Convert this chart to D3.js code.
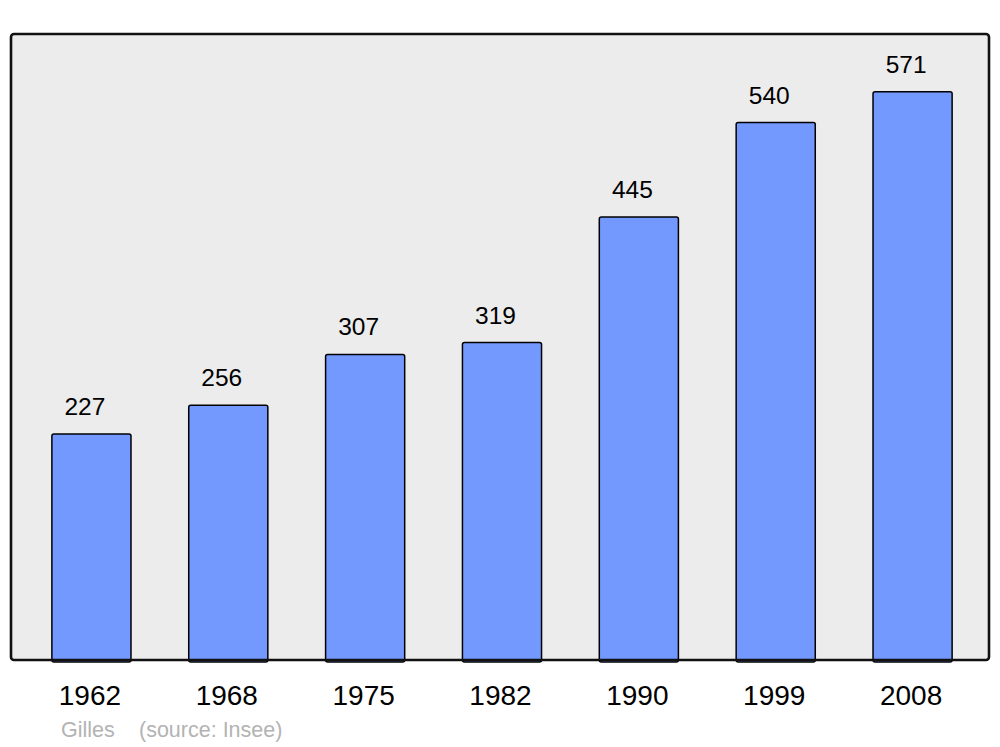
<!DOCTYPE html>
<html>
<head>
<meta charset="utf-8">
<script src="https://cdn.jsdelivr.net/npm/d3@7"></script>
<style>
  body { margin: 0; background: #fff; }
  svg { display: block; }
</style>
</head>
<body>
<div id="chart"></div>
<script>
// data
var years = ["1962", "1968", "1975", "1982", "1990", "1999", "2008"];
var population = [227, 256, 307, 319, 445, 540, 571];
var author = "Gilles";
var source = "(source: Insee)";

var width = 1000, height = 747;
var frame = {left: 11, top: 34, right: 989, bottom: 660};

var svg = d3.select("#chart")
  .append("svg")
    .attr("width", width)
    .attr("height", height)
    .style("font-family", "'Liberation Sans', Arial, sans-serif");

// plot background
svg.append("rect")
  .attr("x", frame.left)
  .attr("y", frame.top)
  .attr("width", frame.right - frame.left)
  .attr("height", frame.bottom - frame.top)
  .attr("rx", 3)
  .attr("fill", "#ececec");

// scales
var x = d3.scaleBand()
  .domain(years)
  .range([23, 981])
  .paddingInner(0.422)
  .paddingOuter(0.211);

var y = d3.scaleLinear()
  .domain([0, 629])
  .range([frame.bottom, frame.top]);

var data = years.map(function(d, i) { return {year: d, value: population[i]}; });

// bars
svg.selectAll(".bar")
  .data(data)
  .enter().append("rect")
    .attr("class", "bar")
    .attr("x", d => x(d.year))
    .attr("y", d => y(d.value))
    .attr("width", x.bandwidth())
    .attr("height", d => y(0) - y(d.value) + 2)
    .attr("rx", 2)
    .attr("fill", "#7399ff")
    .attr("stroke", "#000")
    .attr("stroke-width", 1.5);

// value labels
svg.selectAll(".val")
  .data(data)
  .enter().append("text")
    .attr("class", "val")
    .attr("x", d => x(d.year) + x.bandwidth() / 2 - 6.5)
    .attr("y", d => y(d.value) - 19)
    .attr("text-anchor", "middle")
    .style("font-size", "24.5px")
    .attr("fill", "#000")
    .text(d => d.value);

// frame outline on top
svg.append("rect")
  .attr("x", frame.left)
  .attr("y", frame.top)
  .attr("width", frame.right - frame.left)
  .attr("height", frame.bottom - frame.top)
  .attr("rx", 3)
  .attr("fill", "none")
  .attr("stroke", "#111")
  .attr("stroke-width", 2.6);

// year axis labels
var xAxis = svg.append("g")
  .attr("transform", `translate(0,${frame.bottom})`)
  .call(d3.axisBottom(x).tickSize(0).tickPadding(0));
xAxis.select(".domain").remove();
xAxis.selectAll("text")
  .attr("dy", null)
  .attr("y", 45)
  .attr("x", -1.5)
  .style("font-family", "'Liberation Sans', Arial, sans-serif")
  .style("font-size", "28px")
  .attr("fill", "#000");

// footer
svg.append("text")
  .attr("x", 61)
  .attr("y", 737)
  .style("font-size", "21.5px")
  .attr("fill", "#b3b3b3")
  .text(author);
svg.append("text")
  .attr("x", 139)
  .attr("y", 737)
  .style("font-size", "21.5px")
  .attr("fill", "#b3b3b3")
  .text(source);
</script>
</body>
</html>
